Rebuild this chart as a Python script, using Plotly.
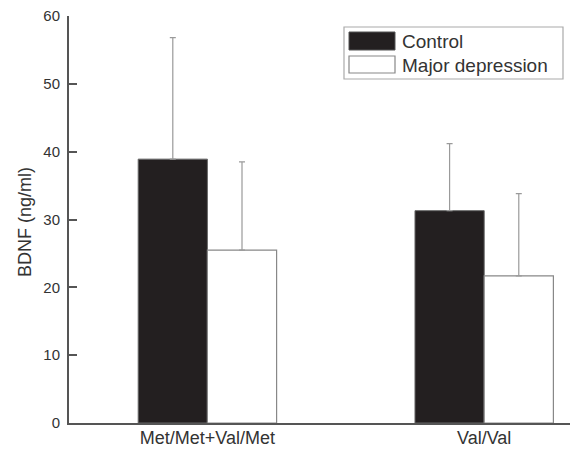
import plotly.graph_objects as go

categories = ["Met/Met+Val/Met", "Val/Val"]
control_mean = [38.9, 31.3]
control_err = [17.9, 9.9]
major_mean = [25.5, 21.7]
major_err = [13.0, 12.1]
series_names = ["Control", "Major depression"]
y_ticks = [0, 10, 20, 30, 40, 50, 60]

FONT = "Liberation Sans, Arial, sans-serif"
TXT = "#333333"
AX = "#555555"

fig = go.Figure()
fig.add_trace(go.Bar(
    x=categories, y=control_mean, name=series_names[0],
    marker=dict(color="#231f20", line=dict(color="#666666", width=1)),
    error_y=dict(type="data", array=control_err, arrayminus=[0] * len(control_err),
                 symmetric=False, color="#9a9a9a", thickness=1.2, width=3),
    showlegend=False,
))
fig.add_trace(go.Bar(
    x=categories, y=major_mean, name=series_names[1],
    marker=dict(color="#ffffff", line=dict(color="#888888", width=1.2)),
    error_y=dict(type="data", array=major_err, arrayminus=[0] * len(major_err),
                 symmetric=False, color="#9a9a9a", thickness=1.2, width=3),
    showlegend=False,
))

PL, PR, PT, PB = 69, 570, 16, 423
W, H = PR - PL, PB - PT

def px(x):
    return (x - PL) / W

def py(y):
    return (PB - y) / H

# manual legend (large swatches like the reference)
fig.add_shape(type="rect", xref="paper", yref="paper",
              x0=px(344), x1=px(563), y0=py(79), y1=py(27),
              line=dict(color="#aaaaaa", width=1.2), fillcolor="rgba(0,0,0,0)")
fig.add_shape(type="rect", xref="paper", yref="paper",
              x0=px(349), x1=px(395), y0=py(50), y1=py(32),
              line=dict(color="#555555", width=1), fillcolor="#231f20")
fig.add_shape(type="rect", xref="paper", yref="paper",
              x0=px(349), x1=px(395), y0=py(73), y1=py(56),
              line=dict(color="#888888", width=1.2), fillcolor="#ffffff")
for name, yc in zip(series_names, [41, 65]):
    fig.add_annotation(xref="paper", yref="paper", x=px(400), y=py(yc),
                       text=name, showarrow=False, xanchor="left", yanchor="middle",
                       font=dict(family=FONT, size=19, color=TXT))

# y-axis title
fig.add_annotation(xref="paper", yref="paper", x=px(25), y=py(222),
                   text="BDNF (ng/ml)", showarrow=False, textangle=-90,
                   xanchor="center", yanchor="middle",
                   font=dict(family=FONT, size=18, color=TXT))

fig.update_layout(
    width=570, height=449,
    margin=dict(l=PL, r=570 - PR, t=PT, b=449 - PB, autoexpand=False),
    paper_bgcolor="white", plot_bgcolor="white",
    barmode="group", bargap=0.5, bargroupgap=0,
    font=dict(family=FONT, color=TXT),
)
fig.update_xaxes(
    range=[-0.5, 1.31], showline=True, linecolor=AX, linewidth=2,
    ticks="", showgrid=False, zeroline=False, automargin=False,
    tickfont=dict(size=18, color=TXT, family=FONT),
    ticklabelstandoff=-3,
)
fig.update_yaxes(
    range=[0, 60], tickvals=y_ticks, showline=True, linecolor=AX, linewidth=2,
    ticks="inside", ticklen=8, tickwidth=2, tickcolor=AX,
    showgrid=False, zeroline=False, automargin=False,
    tickfont=dict(size=15, color=TXT, family=FONT),
    ticklabelstandoff=4,
)

fig.write_html("out.html", config={"displayModeBar": False},
               post_script="document.body.style.margin='0';")
